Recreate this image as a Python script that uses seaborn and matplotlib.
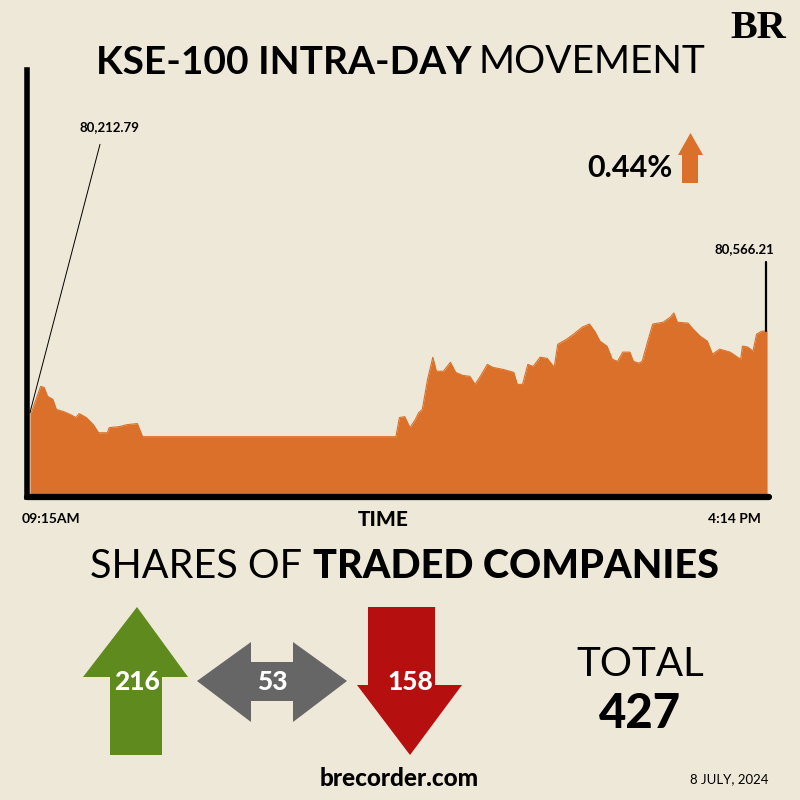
import pandas as pd
import matplotlib.pyplot as plt
import matplotlib.patches as mpatches
import seaborn as sns

# KSE-100 intraday path, minutes after 09:15 and index level
minutes = [0, 1, 6, 8, 10, 13, 15, 19, 23, 26, 28, 32, 36, 39, 44, 45, 51, 55, 61, 64, 208,
           210, 213, 216, 219, 221, 223, 226, 229, 231, 235, 239, 242, 246, 250, 253, 256,
           260, 263, 269, 275, 277, 280, 283, 286, 290, 294, 298, 300, 305, 309, 314, 318,
           321, 324, 328, 331, 334, 337, 341, 343, 346, 348, 351, 354, 360, 364, 366, 368,
           374, 377, 381, 385, 388, 392, 398, 404, 405, 408, 411, 413, 416, 419]
index_level = [80212.79, 80217, 80326, 80322, 80283, 80270, 80226, 80217, 80204, 80191, 80208,
               80191, 80160, 80125, 80125, 80147, 80152, 80160, 80165, 80108, 80108,
               80191, 80195, 80147, 80182, 80213, 80226, 80357, 80453, 80392, 80392, 80431,
               80387, 80374, 80370, 80335, 80370, 80422, 80409, 80400, 80387, 80335, 80335,
               80422, 80413, 80453, 80448, 80409, 80509, 80531, 80553, 80584, 80597, 80566,
               80523, 80501, 80444, 80435, 80475, 80475, 80435, 80427, 80435, 80518, 80597,
               80605, 80627, 80645, 80605, 80601, 80575, 80544, 80523, 80466, 80488, 80475,
               80444, 80501, 80497, 80479, 80553, 80566, 80566.21]

open_label = "80,212.79"
close_label = "80,566.21"
change_label = "0.44%"
time_labels = ["09:15AM", "4:14 PM"]

share_labels = ["216", "53", "158"]
total_label = "427"

bg = "#EEE8D8"
orange = "#DA7029"

df = pd.DataFrame({"minute": minutes, "level": index_level})

sns.set_theme(style="white")
plt.rcParams["font.family"] = ["Lato", "DejaVu Sans"]
plt.rcParams["text.color"] = "black"

fig = plt.figure(figsize=(8, 8), dpi=100, facecolor=bg)

# ---- area chart ----
ax = fig.add_axes([27 / 800, 1 - 497 / 800, 742 / 800, 427 / 800])
ax.set_facecolor(bg)
ax.fill_between(df["minute"], df["level"], 79846, color=orange, lw=0)
sns.lineplot(data=df, x="minute", y="level", color=orange, lw=0.8, ax=ax)
ax.set_xlim(-1.7, 420.1)
ax.set_ylim(79846, 81700)
ax.set_xticks([])
ax.set_yticks([])
ax.set_xlabel("")
ax.set_ylabel("")
for s in ["top", "right"]:
    ax.spines[s].set_visible(False)
ax.spines["left"].set_linewidth(4)
ax.spines["bottom"].set_linewidth(4.5)
ax.spines["left"].set_color("black")
ax.spines["bottom"].set_color("black")
ax.spines["bottom"].set_capstyle("round")

# annotations for open / close
ax.annotate(open_label, xy=(df["minute"].iloc[0], df["level"].iloc[0]),
            xytext=(79 / 800, 1 - 127 / 800), textcoords="figure fraction",
            fontsize=9.5, fontweight="bold", ha="left", va="center",
            arrowprops=dict(arrowstyle="-", lw=0.7, color="black",
                            shrinkA=6, shrinkB=0, relpos=(0.4, 0)))
last_x = df["minute"].iloc[-1] - 0.8
last_y = df["level"].iloc[-1]
ax.plot([last_x, last_x], [last_y, last_y + 300], color="black", lw=1.6)
ax.text(last_x - 12, last_y + 355, close_label, fontsize=9.5, fontweight="bold",
        ha="center", va="center")

# ---- overlay in pixel coordinates for decorations ----
ov = fig.add_axes([0, 0, 1, 1], facecolor="none")
ov.set_xlim(0, 800)
ov.set_ylim(800, 0)
ov.axis("off")

ov.text(472, 62, "KSE-100 INTRA-DAY", fontsize=28, fontweight="bold", ha="right",
        va="center")
ov.text(479, 62, "MOVEMENT", fontsize=28, fontweight="normal", ha="left", va="center")
ov.text(758, 29, "BR", fontsize=29, fontweight="bold", family="Liberation Serif",
        ha="center", va="center")

ov.text(672, 168, change_label, fontsize=22, fontweight="bold", ha="right", va="center")
ov.add_patch(mpatches.Polygon([(682, 183), (682, 155), (678, 155), (690.5, 133), (703, 155),
                               (698, 155), (698, 183)], closed=True, color=orange, lw=0))

ov.text(22, 519, time_labels[0], fontsize=10, fontweight="bold", ha="left", va="center")
ov.text(383, 519, "TIME", fontsize=15, fontweight="black", ha="center", va="center")
ov.text(761, 519, time_labels[1], fontsize=10, fontweight="bold", ha="right", va="center")

ov.text(302, 566, "SHARES OF", fontsize=28.5, fontweight="normal", ha="right", va="center")
ov.text(313, 566, "TRADED COMPANIES", fontsize=28.5, fontweight="black", ha="left",
        va="center")

# up / unchanged / down arrows
green, grey, red = "#5E8A1E", "#666666", "#B50F0F"
ov.add_patch(mpatches.Polygon([(110, 755), (110, 677), (83, 677), (137, 607), (188, 677),
                               (162, 677), (162, 755)], closed=True, color=green, lw=0))
ov.add_patch(mpatches.Polygon([(197, 681), (251, 642), (251, 662), (293, 662), (293, 642),
                               (347, 681), (293, 722), (293, 701), (251, 701), (251, 722)],
                              closed=True, color=grey, lw=0))
ov.add_patch(mpatches.Polygon([(368, 607), (435, 607), (435, 685), (462, 685), (410, 755),
                               (357, 685), (368, 685)], closed=True, color=red, lw=0))
for x, lab in zip([137, 272, 410], share_labels):
    ov.text(x, 682, lab, fontsize=19, fontweight="black", color="white", ha="center",
            va="center")

ov.text(640, 665, "TOTAL", fontsize=29, ha="center", va="center")
ov.text(640, 714, total_label, fontsize=34, fontweight="black", ha="center", va="center")

ov.text(399, 779, "brecorder.com", fontsize=17.5, fontweight="black", ha="center",
        va="center")
ov.text(729, 779, "8 JULY, 2024", fontsize=9.5, ha="center", va="center")

plt.savefig("out.png", dpi=100, facecolor=bg)
